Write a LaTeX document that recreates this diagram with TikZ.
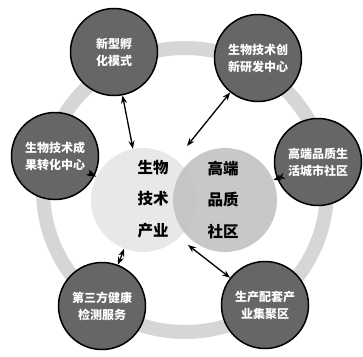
\documentclass[tikz,border=0pt]{standalone}
\usepackage{fontspec}
\newfontfamily\cjk{Noto Sans CJK SC}
\usetikzlibrary{arrows.meta}
\begin{document}
\begin{tikzpicture}[x=1pt,y=-1pt,
  outer/.style={circle,draw=black,line width=1.5pt,fill=black!60,minimum size=87pt,inner sep=0pt,
    text=white,font=\cjk\bfseries\fontsize{12}{17}\selectfont,align=center},
  inner/.style={circle,minimum size=104pt,inner sep=0pt},
  ctext/.style={font=\cjk\bfseries\fontsize{15.5}{31.5}\selectfont,align=center},
  link/.style={{Stealth[length=8pt,width=6pt]}-{Stealth[length=8pt,width=6pt]},line width=1.3pt,black}]
\useasboundingbox (0,0) rectangle (363,356);
% ring
\draw[line width=14pt,gray!32] (185,190) circle[radius=142];
% centre circles
\node[inner,fill=gray!18] (bio) at (143,200) {};
\node[inner,fill=gray!48,opacity=0.9] (hq) at (225,200) {};
\node[ctext] (biot) at (153,199) {生物\\技术\\产业};
\node[ctext] (hqt) at (223,200) {高端\\品质\\社区};
\coordinate (topmid) at (187,146);
\coordinate (botmid) at (188,245);
% outer nodes
\node[outer] (tl) at (114,52) {新型孵\\化模式};
\node[outer] (tr) at (258,58) {生物技术创\\新研发中心};
\node[outer] (l) at (55,156) {生物技术成\\果转化中心};
\node[outer] (r) at (318,162) {高端品质生\\活城市社区};
\node[outer] (bl) at (102,306) {第三方健康\\检测服务};
\node[outer] (br) at (265,305) {生产配套产\\业集聚区};
% links
\draw[link] (tl) -- (bio);
\draw[link] (tr) -- (topmid);
\draw[link] (l) -- (bio);
\draw[link] (r) -- (hq);
\draw[link] (bl) -- (bio);
\draw[link] (br) -- (botmid);
\end{tikzpicture}
\end{document}
